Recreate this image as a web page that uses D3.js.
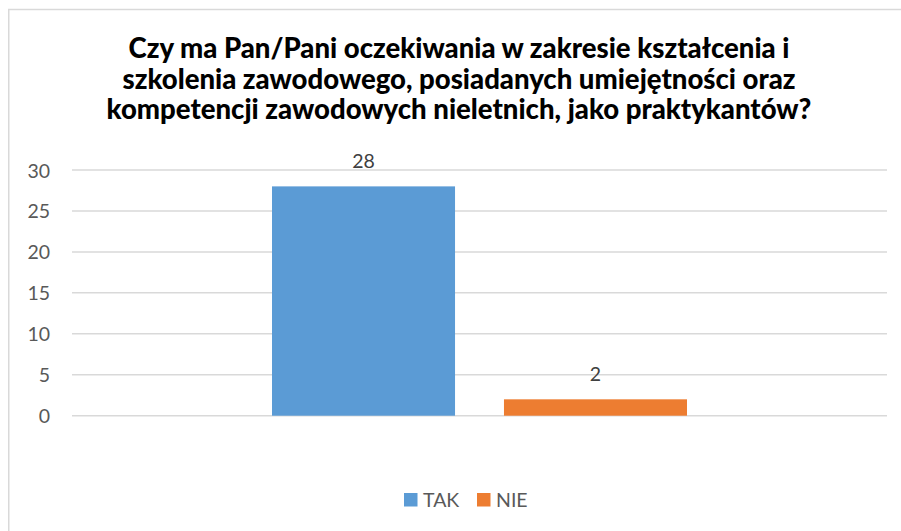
<!DOCTYPE html>
<html>
<head>
<meta charset="utf-8">
<script src="https://cdn.jsdelivr.net/npm/d3@7"></script>
<style>
  html, body { margin: 0; padding: 0; background: #fff; }
  svg { display: block; }
</style>
</head>
<body>
<svg id="chart" width="901" height="531"></svg>
<script>
// Survey answers: one question, two response series
const titleLines = [
  "Czy ma Pan/Pani oczekiwania w zakresie kształcenia i",
  "szkolenia zawodowego, posiadanych umiejętności oraz",
  "kompetencji zawodowych nieletnich, jako praktykantów?"
];
const seriesNames = ["TAK", "NIE"];
const seriesValues = [28, 2];
const seriesColors = ["#5b9bd5", "#ed7d31"];
const yTicks = [0, 5, 10, 15, 20, 25, 30];

const W = 901, H = 531;
const svg = d3.select("#chart");
const fontFamily = "Lato, 'Open Sans', 'DejaVu Sans', sans-serif";
const labelSize = 19.5;

// Chart frame
svg.append("rect")
  .attr("x", 8.75).attr("y", 9.5)
  .attr("width", W + 20).attr("height", H + 20)
  .attr("fill", "#fff")
  .attr("stroke", "#d9d9d9").attr("stroke-width", 1.5);

// Plot area
const plot = { left: 72, right: 887, top: 170, bottom: 415.7 };

const y = d3.scaleLinear()
  .domain([0, 30])
  .range([plot.bottom, plot.top]);

// A single category holding both series side by side
const x0 = d3.scaleBand().domain(["q"]).range([plot.left, plot.right]);
const groupCenter = x0("q") + x0.bandwidth() / 2;
const groupWidth = 415;
const x1 = d3.scaleBand()
  .domain(seriesNames)
  .range([groupCenter - groupWidth / 2, groupCenter + groupWidth / 2])
  .paddingInner(0.211);

// Gridlines
svg.append("g")
  .selectAll("line")
  .data(yTicks)
  .join("line")
  .attr("x1", plot.left).attr("x2", plot.right)
  .attr("y1", d => y(d)).attr("y2", d => y(d))
  .attr("stroke", "#d9d9d9").attr("stroke-width", 1.5);

// Y axis labels
const yAxis = d3.axisLeft(y).tickValues(yTicks).tickSize(0).tickPadding(0);
const yg = svg.append("g")
  .attr("transform", "translate(50,0)")
  .call(yAxis);
yg.select(".domain").remove();
yg.selectAll("text")
  .attr("fill", "#595959")
  .attr("font-family", fontFamily)
  .attr("font-size", labelSize)
  .attr("dy", "0.36em");

// Bars
const data = seriesNames.map((n, i) => ({ name: n, value: seriesValues[i], color: seriesColors[i] }));
svg.append("g")
  .selectAll("rect")
  .data(data)
  .join("rect")
  .attr("x", d => x1(d.name))
  .attr("width", x1.bandwidth())
  .attr("y", d => y(d.value))
  .attr("height", d => y(0) - y(d.value))
  .attr("fill", d => d.color);

// Value labels
svg.append("g")
  .selectAll("text")
  .data(data)
  .join("text")
  .attr("x", d => x1(d.name) + x1.bandwidth() / 2)
  .attr("y", d => y(d.value) - 18)
  .attr("text-anchor", "middle")
  .attr("fill", "#404040")
  .attr("font-family", fontFamily)
  .attr("font-size", labelSize)
  .text(d => d.value);

// Title, sized so the longest line spans the same width as the frame layout
const title = svg.append("g");
const titleCenter = 459;
const titleBaselines = [58, 88.5, 118.5];
const tt = title.selectAll("text")
  .data(titleLines)
  .join("text")
  .attr("x", titleCenter)
  .attr("y", (d, i) => titleBaselines[i])
  .attr("text-anchor", "middle")
  .attr("font-family", fontFamily)
  .attr("font-weight", 900)
  .attr("font-size", 25)
  .attr("fill", "#000")
  .text(d => d);
const longest = d3.max(tt.nodes(), n => n.getComputedTextLength());
tt.attr("font-size", 25 * 705 / longest);

// Legend
const legendItems = [
  { name: "TAK", color: seriesColors[0], x: 404 },
  { name: "NIE", color: seriesColors[1], x: 477 }
];
const lg = svg.append("g");
legendItems.forEach(it => {
  lg.append("rect")
    .attr("x", it.x).attr("y", 493)
    .attr("width", 13.5).attr("height", 13.5)
    .attr("fill", it.color);
  lg.append("text")
    .attr("x", it.x + 19).attr("y", 507)
    .attr("fill", "#595959")
    .attr("font-family", fontFamily)
    .attr("font-size", labelSize)
    .text(it.name);
});
</script>
</body>
</html>
